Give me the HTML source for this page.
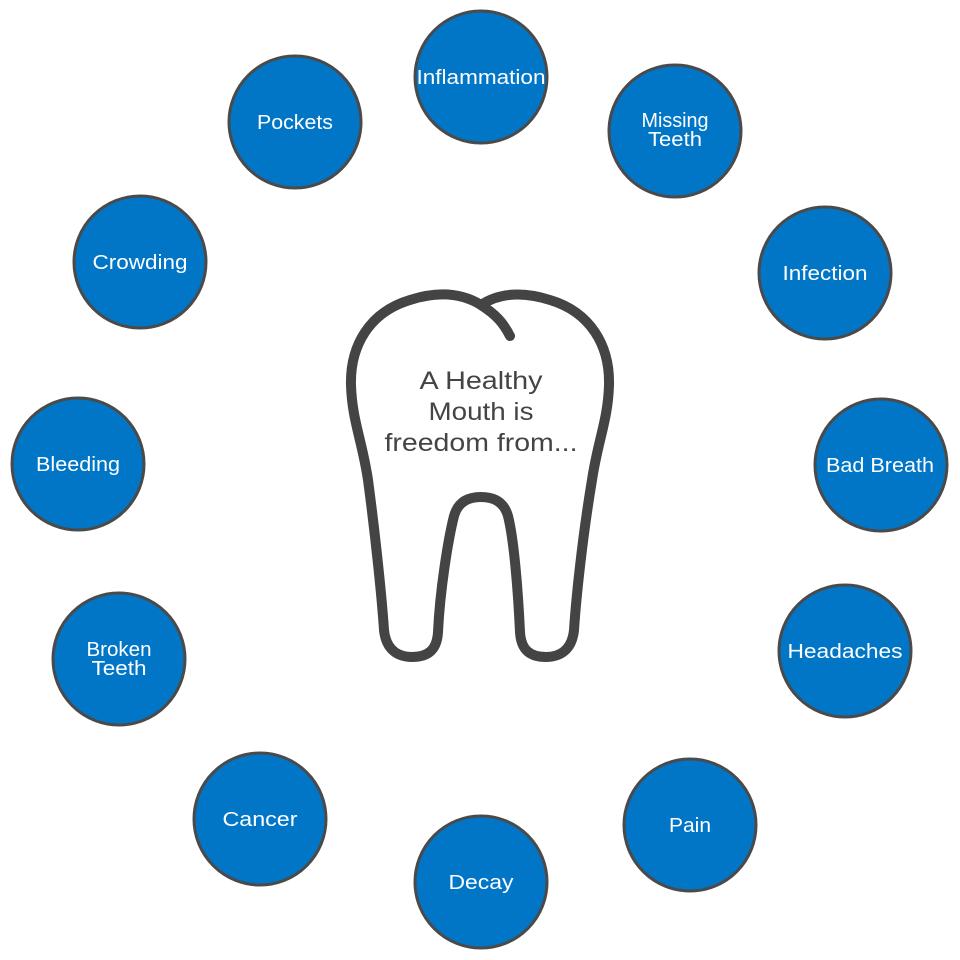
<!DOCTYPE html>
<html><head><style>
html,body{margin:0;padding:0;background:#fff;width:960px;height:960px;overflow:hidden}
text{font-family:"Liberation Sans",sans-serif}
</style></head><body>
<svg width="960" height="960" viewBox="0 0 960 960" xmlns="http://www.w3.org/2000/svg">
<g fill="none" stroke="#444" stroke-width="10" stroke-linecap="round" stroke-linejoin="round">
<path d="M481,305 C460,292 435,292 410,300 C370,312 350,345 351,385 C352,420 362,440 368,480 C376,540 382,600 384,630 C386,650 398,657 412,657 C428,657 437,650 438,632 C440,590 448,540 454,516 C458,502 468,497 481,497 C494,497 504,502 508,516 C514,540 518,590 520,632 C521,650 530,657 546,657 C560,657 572,650 574,630 C576,600 582,540 592,480 C598,440 608,420 609,385 C610,345 590,312 550,300 C525,292 500,292 481,305 Z"/>
<path d="M481,305 C495,314 503,322 510,336"/>
</g>
<g fill="#444" font-size="25" text-anchor="middle" lengthAdjust="spacingAndGlyphs">
<text x="481" y="389" textLength="123" lengthAdjust="spacingAndGlyphs">A Healthy</text>
<text x="481" y="420" textLength="105" lengthAdjust="spacingAndGlyphs">Mouth is</text>
<text x="481" y="451" textLength="193" lengthAdjust="spacingAndGlyphs">freedom from...</text>
</g>
<g fill="#0176c7" stroke="#4a4a4a" stroke-width="3">
<circle cx="481" cy="77" r="66"/>
<circle cx="675" cy="131" r="66"/>
<circle cx="825" cy="273" r="66"/>
<circle cx="881" cy="465" r="66"/>
<circle cx="845" cy="651" r="66"/>
<circle cx="690" cy="825" r="66"/>
<circle cx="481" cy="882" r="66"/>
<circle cx="260" cy="819" r="66"/>
<circle cx="119" cy="659" r="66"/>
<circle cx="78" cy="464" r="66"/>
<circle cx="140" cy="262" r="66"/>
<circle cx="295" cy="122" r="66"/>
</g>
<g fill="#fff" font-size="20" text-anchor="middle">
<text x="481" y="84" textLength="129" lengthAdjust="spacingAndGlyphs">Inflammation</text>
<text x="675" y="127" textLength="67" lengthAdjust="spacingAndGlyphs">Missing</text>
<text x="675" y="146" textLength="54" lengthAdjust="spacingAndGlyphs">Teeth</text>
<text x="825" y="280" textLength="85" lengthAdjust="spacingAndGlyphs">Infection</text>
<text x="880" y="472" textLength="108" lengthAdjust="spacingAndGlyphs">Bad Breath</text>
<text x="845" y="658" textLength="115" lengthAdjust="spacingAndGlyphs">Headaches</text>
<text x="690" y="832" textLength="42" lengthAdjust="spacingAndGlyphs">Pain</text>
<text x="481" y="889" textLength="65" lengthAdjust="spacingAndGlyphs">Decay</text>
<text x="260" y="826" textLength="75" lengthAdjust="spacingAndGlyphs">Cancer</text>
<text x="119" y="656" textLength="65" lengthAdjust="spacingAndGlyphs">Broken</text>
<text x="119" y="675" textLength="55" lengthAdjust="spacingAndGlyphs">Teeth</text>
<text x="78" y="471" textLength="84" lengthAdjust="spacingAndGlyphs">Bleeding</text>
<text x="140" y="269" textLength="95" lengthAdjust="spacingAndGlyphs">Crowding</text>
<text x="295" y="129" textLength="76" lengthAdjust="spacingAndGlyphs">Pockets</text>
</g>
</svg>
</body></html>
